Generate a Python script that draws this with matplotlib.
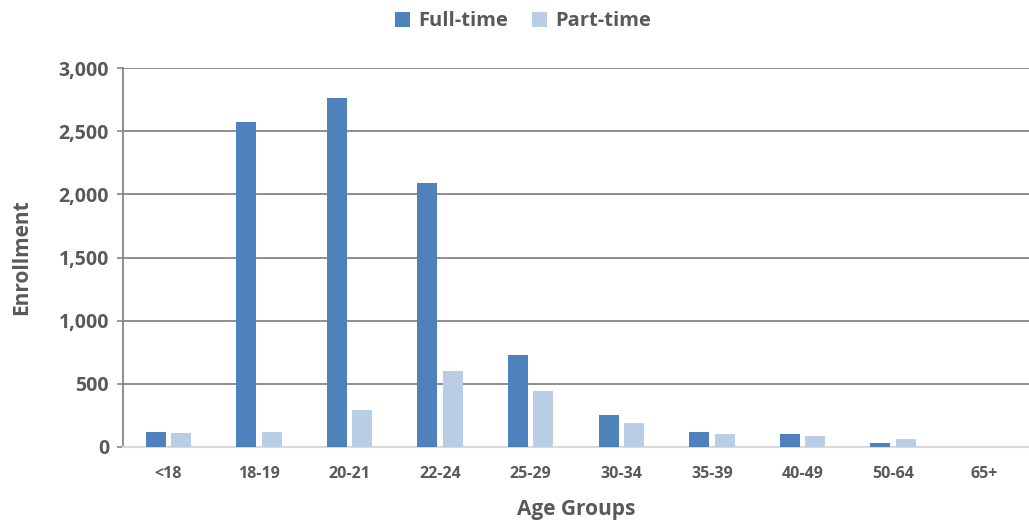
import matplotlib
matplotlib.use("Agg")
import matplotlib.pyplot as plt
import numpy as np

categories = ["<18", "18-19", "20-21", "22-24", "25-29", "30-34", "35-39", "40-49", "50-64", "65+"]
full_time = [120, 2570, 2760, 2090, 730, 250, 120, 100, 30, 0]
part_time = [110, 120, 290, 600, 445, 190, 100, 90, 65, 0]
yticks = [0, 500, 1000, 1500, 2000, 2500, 3000]

plt.rcParams['font.family'] = ['Open Sans', 'DejaVu Sans']
txt = '#595959'

fig = plt.figure(figsize=(10.29, 5.24), dpi=100)
ax = fig.add_axes([0.1195, 0.147, 0.8805, 0.723])

x = np.arange(len(categories))
w = 0.22
off = 0.14
ax.bar(x - off, full_time, w, color='#4f81bd', label='Full-time', zorder=3)
ax.bar(x + off, part_time, w, color='#b9cde5', label='Part-time', zorder=3)

ax.set_xlim(-0.5, len(categories) - 0.5)
ax.set_ylim(0, 3000)
ax.set_yticks(yticks)
ax.set_yticklabels([f"{v:,}" for v in yticks], fontsize=14, fontweight='bold', color=txt)
ax.set_xticks(x)
ax.set_xticklabels(categories, fontsize=11.5, fontweight='bold', color=txt)
ax.tick_params(axis='x', length=0, pad=14)
ax.tick_params(axis='y', length=4, color='#868686', width=1.2, pad=6)

ax.grid(axis='y', color='#868686', linewidth=1.3, zorder=0)
for s in ['top', 'right']:
    ax.spines[s].set_visible(False)
ax.spines['left'].set_color('#868686')
ax.spines['left'].set_linewidth(1.3)
ax.spines['bottom'].set_color('#d9d9d9')
ax.spines['bottom'].set_linewidth(1.5)

ax.set_ylabel('Enrollment', fontsize=15, fontweight='bold', color=txt, va='center')
ax.yaxis.set_label_coords(-0.1115, 0.5)
ax.set_xlabel('Age Groups', fontsize=15, fontweight='bold', color=txt, va='center')
ax.xaxis.set_label_coords(0.5, -0.166)

leg = fig.legend(loc='upper center', bbox_to_anchor=(0.508, 1.013), ncol=2, frameon=False,
                 handlelength=0.75, handleheight=0.75, columnspacing=1.2, handletextpad=0.4,
                 prop={'size': 14.5, 'weight': 'bold'})
for t in leg.get_texts():
    t.set_color(txt)

fig.savefig('out.png', dpi=100)
